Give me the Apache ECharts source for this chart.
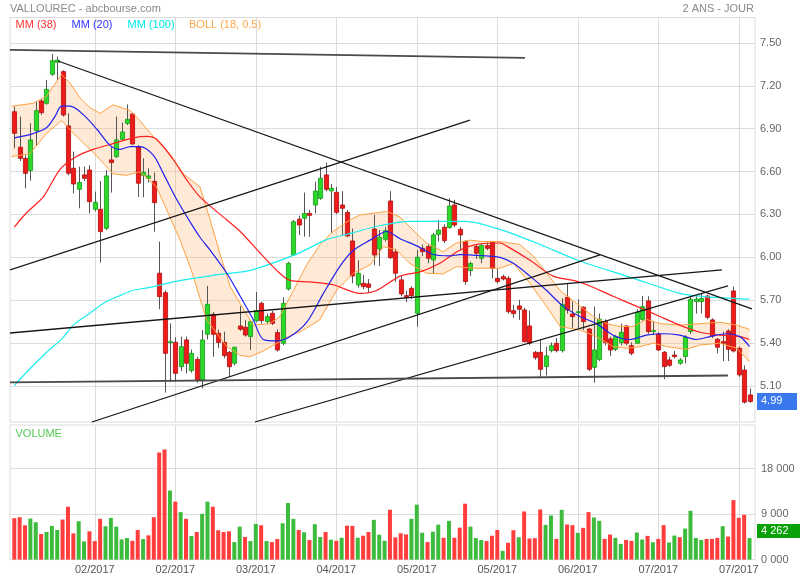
<!DOCTYPE html>
<html><head><meta charset="utf-8">
<script src="https://cdn.jsdelivr.net/npm/echarts@6/dist/echarts.min.js"></script>
<style>html,body{margin:0;padding:0;background:#fff}#c{width:800px;height:580px}</style>
</head><body><div id="c"></div>
<script>
// ---------------- DATA ----------------
const opens = [7.002,6.755,6.678,6.593,6.870,7.076,7.060,7.262,7.345,7.280,
6.903,6.609,6.463,6.563,6.597,6.324,6.324,6.192,6.667,6.690,
6.810,6.921,6.986,6.759,6.560,6.539,6.518,5.880,5.745,5.398,
5.400,5.231,5.417,5.204,5.282,5.139,5.456,5.595,5.463,5.400,
5.331,5.255,5.514,5.505,5.440,5.550,5.671,5.544,5.602,5.468,
5.394,5.771,6.007,6.255,6.262,6.296,6.354,6.400,6.563,6.452,
6.442,6.354,6.303,6.104,5.799,5.810,5.806,6.187,6.049,6.116,
6.382,6.028,5.834,5.725,5.775,5.602,6.053,6.065,5.972,6.150,
6.199,6.197,6.354,6.185,6.100,5.898,6.065,5.984,6.072,6.093,
5.845,5.856,5.845,5.620,5.653,5.625,5.514,5.331,5.331,5.232,
5.343,5.394,5.343,5.713,5.597,5.610,5.644,5.493,5.227,5.282,
5.544,5.424,5.352,5.398,5.514,5.377,5.394,5.560,5.688,5.480,
5.458,5.331,5.278,5.312,5.255,5.301,5.475,5.683,5.683,5.722,
5.556,5.421,5.405,5.479,5.757,5.359,5.208,5.035];
const closes = [6.852,6.678,6.574,6.806,7.009,6.995,7.157,7.356,7.360,6.979,
6.574,6.500,6.510,6.539,6.377,6.373,6.169,6.556,6.648,6.806,
6.861,6.949,6.778,6.505,6.581,6.556,6.370,5.718,5.324,5.405,
5.185,5.370,5.255,5.324,5.139,5.417,5.664,5.456,5.400,5.308,
5.231,5.366,5.491,5.451,5.544,5.620,5.551,5.579,5.532,5.347,
5.671,5.949,6.238,6.215,6.296,6.282,6.451,6.539,6.463,6.470,
6.303,6.331,6.139,5.861,5.880,5.787,5.782,6.007,6.130,6.176,
5.988,5.880,5.736,5.713,5.725,5.991,6.030,5.984,6.146,6.180,
6.107,6.347,6.215,6.146,5.822,5.948,6.019,6.072,6.053,5.914,
5.822,5.840,5.613,5.600,5.630,5.405,5.394,5.294,5.213,5.306,
5.377,5.343,5.664,5.625,5.579,5.613,5.544,5.213,5.347,5.560,
5.398,5.347,5.440,5.470,5.394,5.324,5.609,5.648,5.475,5.482,
5.347,5.232,5.241,5.301,5.278,5.435,5.699,5.700,5.705,5.574,
5.444,5.366,5.394,5.352,5.340,5.174,4.985,4.990];
const highs = [7.037,6.968,6.700,6.921,7.076,7.090,7.222,7.403,7.384,7.290,
6.991,6.725,6.620,6.620,6.630,6.447,6.520,6.597,6.759,6.968,
6.926,7.053,6.990,6.770,6.678,6.609,6.579,6.100,5.760,5.532,
5.435,5.440,5.440,5.350,5.300,5.486,5.792,5.610,5.490,5.474,
5.340,5.370,5.653,5.556,5.556,5.750,5.683,5.600,5.620,5.490,
5.713,5.960,6.250,6.280,6.440,6.320,6.516,6.620,6.648,6.500,
6.480,6.450,6.320,6.190,5.970,5.870,5.840,6.285,6.180,6.200,
6.450,6.050,5.860,5.760,5.790,6.040,6.080,6.080,6.160,6.250,
6.220,6.400,6.390,6.200,6.110,5.960,6.080,6.090,6.093,6.100,
5.914,5.870,5.860,5.660,5.695,5.640,5.620,5.340,5.420,5.370,
5.400,5.430,5.706,5.806,5.683,5.699,5.650,5.500,5.648,5.600,
5.560,5.440,5.450,5.530,5.520,5.400,5.630,5.722,5.720,5.550,
5.470,5.340,5.300,5.340,5.290,5.450,5.722,5.720,5.740,5.730,
5.567,5.430,5.475,5.490,5.787,5.370,5.240,5.080];
const lows = [6.748,6.660,6.470,6.523,6.766,6.980,7.050,7.250,7.222,6.968,
6.560,6.435,6.331,6.520,6.296,6.310,5.954,6.180,6.440,6.680,
6.800,6.910,6.770,6.410,6.407,6.510,6.169,5.630,5.051,5.127,
5.127,5.200,5.185,5.190,5.120,5.081,5.420,5.300,5.360,5.290,
5.162,5.240,5.480,5.440,5.347,5.540,5.530,5.530,5.520,5.336,
5.380,5.760,6.000,6.146,6.134,6.134,6.296,6.390,6.450,6.160,
6.290,6.140,6.130,5.810,5.780,5.770,5.750,5.937,5.930,6.100,
5.980,5.820,5.720,5.680,5.700,5.509,6.000,5.950,5.880,6.100,
6.090,6.190,6.200,6.040,5.800,5.860,5.980,5.950,6.040,5.845,
5.810,5.830,5.600,5.570,5.556,5.400,5.380,5.280,5.160,5.170,
5.330,5.330,5.330,5.600,5.500,5.498,5.486,5.200,5.120,5.270,
5.380,5.306,5.340,5.380,5.380,5.310,5.390,5.550,5.460,5.450,
5.340,5.144,5.230,5.290,5.245,5.255,5.460,5.600,5.600,5.560,
5.430,5.324,5.270,5.270,5.330,5.160,4.975,4.980];
const volumes = [8200,8400,6800,8130,7400,5070,5470,6670,5870,7930,
10470,5200,7600,3600,5600,3670,8070,6600,8270,6530,
4000,4270,3730,5870,4070,4800,8400,21200,21800,13670,
11470,9400,8070,4670,5470,9070,11470,10470,5800,5470,
5600,3470,6530,4470,3670,7070,6800,3670,3470,4070,
7200,11200,8070,5870,5400,3870,7000,4470,5470,3930,
3730,4330,6730,6670,4330,4730,5470,7870,4930,3730,
9870,4400,5200,5000,8070,10870,5330,3470,5530,6930,
4330,7670,4330,6330,11070,6530,4270,3870,3670,4730,
5870,1730,3330,5820,4430,9530,4170,4240,9930,6880,
8740,4100,9860,6950,6820,5290,6290,9400,8340,7680,
4100,4960,4300,3110,3900,3710,5360,3970,4700,3440,
4100,6820,3380,4760,4430,6150,9660,4300,3900,4100,
4100,4300,6620,4570,11780,8270,8870,4262];
// volume bar colour: U = up (green), D = down (red)
const volDir = "DDDUUDUUUD" + "DDUUDDDUUU" + "UUDDUDDDDU" + "DUDUDUUDDD" + "DUUDUUDUDD" +
               "UUUDUDUUDU" + "DUDDUDDUUU" + "DDDDUUUDUU" + "DUDDDUUUDD" + "DUDDUDDDDU" +
               "UDUDDUDDUU" + "DDUUDDUUDU" + "DDUUDUUUUD" + "DDUDDDDU";
const tickLabels = ["02/2017","02/2017","03/2017","04/2017","05/2017","05/2017","06/2017","07/2017","07/2017"];
const TICK_EVERY = 15;
const priceTicks = {min: 4.8, max: 7.8, step: 0.3};
const volTicks = {step: 9000};
const lastVolumeText = "4 262";

// indicator lines: [candle index, value]
const ma100 = [[0,5.10],[3,5.22],[6,5.33],[9,5.43],[11,5.52],[14,5.60],[17,5.68],[20,5.73],[22,5.76],[25,5.78],[31,5.83],[38,5.87],[44,5.90],[53,6.02],[58,6.11],[63,6.16],[68,6.21],[74,6.24],[84,6.24],[90,6.19],[98,6.08],[105,5.97],[115,5.85],[124,5.74],[128,5.72],[137,5.70]];
const ma38 = [[0,6.20],[2.3,6.30],[5.4,6.41],[8.5,6.60],[11.6,6.69],[14.7,6.74],[18.4,6.78],[22.2,6.82],[24.7,6.83],[26.5,6.81],[29.6,6.67],[32.1,6.53],[34.6,6.41],[39.6,6.25],[42.1,6.17],[45.8,6.02],[48.9,5.90],[51.4,5.83],[55.1,5.82],[59.4,5.80],[64.4,5.74],[67.5,5.76],[71.9,5.86],[75.6,5.89],[79.3,5.95],[83.0,6.04],[86.2,6.08],[90.5,6.09],[91.7,6.07],[96.1,5.97],[100.4,5.86],[104.2,5.83],[106.7,5.80],[111.6,5.72],[116.0,5.65],[120.3,5.58],[124.0,5.52],[127.8,5.47],[131.5,5.45],[135.2,5.44],[137,5.42]];
const ma20 = [[0,6.82],[3.5,6.85],[6.0,6.89],[7.6,6.97],[8.8,7.04],[10.4,7.04],[12.9,6.98],[15.4,6.88],[17.8,6.77],[19.7,6.74],[21.6,6.76],[23.4,6.76],[25.9,6.70],[27.8,6.57],[30.3,6.39],[32.7,6.24],[34.6,6.13],[36.5,6.04],[39.6,5.88],[42.1,5.72],[44.5,5.56],[46.4,5.42],[48.9,5.41],[51.4,5.44],[54.5,5.54],[57.6,5.74],[60.7,5.93],[63.2,6.04],[66.3,6.11],[69.4,6.17],[71.9,6.12],[75.0,6.07],[78.1,6.01],[81.2,6.00],[83.0,6.01],[88.0,6.00],[90.5,5.99],[93.0,5.95],[96.1,5.86],[99.2,5.76],[102.3,5.65],[105.4,5.58],[108.5,5.53],[111.6,5.45],[114.7,5.42],[117.8,5.45],[120.9,5.46],[124.0,5.45],[127.1,5.42],[129.6,5.44],[132.7,5.46],[135.2,5.44],[137,5.37]];
const bollUp = [[-0.5,7.04],[3.5,7.06],[6.0,7.11],[8.8,7.26],[10.4,7.20],[12.2,7.10],[14.1,7.03],[16.0,6.99],[18.4,7.05],[21.6,7.01],[23.4,6.94],[25.9,6.83],[29.0,6.71],[31.5,6.57],[34.6,6.48],[36.5,6.25],[38.3,6.02],[40.2,5.79],[42.1,5.67],[44.5,5.52],[47.6,5.53],[49.5,5.58],[52.0,5.76],[54.5,5.94],[57.0,6.08],[59.4,6.17],[62.5,6.25],[64.4,6.285],[67.5,6.30],[69.4,6.31],[71.9,6.27],[74.3,6.18],[76.8,6.09],[79.9,6.03],[82.4,6.09],[84.9,6.11],[87.4,6.10],[90.5,6.10],[94.2,6.08],[96.7,6.00],[99.2,5.88],[101.7,5.76],[104.8,5.67],[107.9,5.58],[110.4,5.53],[112.9,5.51],[115.3,5.51],[117.8,5.56],[120.3,5.53],[124.0,5.52],[127.8,5.53],[131.5,5.54],[134.6,5.52],[137,5.49]];
const bollLow = [[-0.5,6.69],[2.9,6.71],[6.0,6.85],[8.8,6.94],[11.6,6.83],[14.7,6.72],[18.4,6.57],[20.9,6.56],[23.4,6.585],[26.5,6.48],[29.0,6.27],[30.9,6.11],[33.0,5.90],[35.8,5.56],[39.6,5.37],[42.1,5.31],[43.9,5.30],[46.4,5.34],[49.5,5.405],[52.0,5.46],[53.2,5.47],[56.9,5.556],[60.1,5.764],[63.2,5.88],[66.3,5.938],[68.8,6.065],[71.2,6.042],[73.7,5.949],[76.8,5.88],[79.9,5.875],[82.4,5.926],[85.5,5.915],[90.5,5.915],[93.0,5.949],[96.1,5.81],[99.2,5.648],[101.7,5.509],[105.4,5.486],[108.5,5.44],[111.6,5.37],[114.1,5.359],[116.6,5.37],[119.1,5.394],[121.6,5.37],[125.3,5.352],[127.8,5.382],[131.5,5.394],[134.6,5.359],[137,5.266]];
// drawn trend lines: [candle index, price] end points; heavy = drawn thicker/greyer
const trendLines = [
  {pts: [[-0.8,7.431],[95.15,7.375]], heavy: true},
  {pts: [[8.14,7.354],[137.45,5.632]]},
  {pts: [[-0.8,5.903],[84.91,6.944]]},
  {pts: [[14.48,4.847],[109.13,6.007]]},
  {pts: [[44.85,4.847],[132.98,5.792]]},
  {pts: [[-0.8,5.465],[131.86,5.903]]},
  {pts: [[-0.8,5.122],[132.98,5.170]], heavy: true}
];

// ---------------- LAYOUT / STYLE ----------------
const FONT = '"Liberation Sans", Arial, sans-serif';
const GRID = '#dcdcdc';
const DL = 11.6, DW = 740.6;          // candle band area
const PL = 10, PW = 745;              // panel frame
const MT = 17.5, MB = 422;            // price panel
const VT = 425, VB = 559.6;           // volume panel
const P_MAX = 7.656, P_MIN = 4.847;   // price extent of panel
const V_MAX = 26650;
const UP_FILL = '#2bd92b', UP_LINE = '#159b15', DN_FILL = '#ee1b1b', DN_LINE = '#b30c0c';
const VOL_UP = '#3dbb3d', VOL_DN = '#ff3d3d';

const N = closes.length;
const categories = closes.map((_, i) => String(i));
const candleData = closes.map((c, i) => [i, opens[i], c, lows[i], highs[i]]);
const tickInt = (idx) => idx > 0 && idx % TICK_EVERY === 0;
const volFmt = v => v === 0 ? '0 000' : String(Math.round(v)).replace(/\B(?=(\d{3})+(?!\d))/g, ' ');

function renderCandle(params, api) {
  const i = api.value(0);
  const o = api.value(1), c = api.value(2), lo = api.value(3), hi = api.value(4);
  const pH = api.coord([i, hi]), pL = api.coord([i, lo]);
  const pO = api.coord([i, o]), pC = api.coord([i, c]);
  const bw = api.size([1, 0])[0] * 0.78;
  const up = c >= o;
  const x = Math.round(pH[0]) + 0.5;
  const top = Math.min(pO[1], pC[1]);
  const h = Math.max(Math.abs(pO[1] - pC[1]), 1);
  return {type: 'group', children: [
    {type: 'line', shape: {x1: x, y1: pH[1], x2: x, y2: pL[1]}, style: {stroke: '#555', lineWidth: 1}},
    {type: 'rect', shape: {x: x - bw / 2, y: top, width: bw, height: h},
     style: {fill: up ? UP_FILL : DN_FILL, stroke: up ? UP_LINE : DN_LINE, lineWidth: 0.8}}
  ]};
}
function renderBand(params, api) {
  const pts = bollUp.map(p => api.coord(p)).concat(bollLow.slice().reverse().map(p => api.coord(p)));
  return {type: 'polygon', shape: {points: pts}, style: {fill: 'rgba(250,180,110,0.28)'}};
}
function lineSeries(data, color, z, width, smooth) {
  return {type: 'line', xAxisIndex: 1, yAxisIndex: 0, data, symbol: 'none', silent: true,
    lineStyle: {color, width}, z, smooth, clip: false, animation: false};
}

const hidden = {show: false};
const chart = echarts.init(document.getElementById('c'), null, {renderer: 'canvas'});
const option = {
  animation: false,
  textStyle: {fontFamily: FONT},
  grid: [
    {left: DL, top: MT, width: DW, height: MB - MT, show: false},
    {left: DL, top: VT, width: DW, height: VB - VT, show: false},
    {left: PL, top: 40 - (priceTicks.max - 7.5) / 0.3 * 43.2, width: PW, height: (priceTicks.max - priceTicks.min) / 0.3 * 43.2, show: false},
    {left: PL, top: MT, width: PW, height: MB - MT, show: true, borderColor: GRID, borderWidth: 1, backgroundColor: 'transparent'},
    {left: PL, top: VT, width: PW, height: VB - VT, show: true, borderColor: GRID, borderWidth: 1, backgroundColor: 'transparent'}
  ],
  xAxis: [
    {gridIndex: 0, type: 'category', data: categories, boundaryGap: true,
     axisLine: hidden, axisTick: hidden, axisLabel: hidden,
     splitLine: {show: true, interval: tickInt, alignWithLabel: true, lineStyle: {color: GRID}}},
    {gridIndex: 0, type: 'value', min: -0.5, max: N - 0.5, show: false},
    {gridIndex: 1, type: 'category', data: categories, boundaryGap: true,
     axisLine: hidden, axisTick: hidden,
     axisLabel: {show: true, interval: tickInt, color: '#555', fontSize: 11, margin: 5, fontFamily: FONT,
       formatter: (v, idx) => tickLabels[idx / TICK_EVERY - 1] || ''},
     splitLine: {show: true, interval: tickInt, alignWithLabel: true, lineStyle: {color: GRID}}},
    {gridIndex: 2, type: 'value', min: 0, max: 1, show: false},
    {gridIndex: 3, type: 'value', min: 0, max: 1, show: false},
    {gridIndex: 4, type: 'value', min: 0, max: 1, show: false}
  ],
  yAxis: [
    {gridIndex: 0, type: 'value', min: P_MIN, max: P_MAX, show: false},
    {gridIndex: 1, type: 'value', min: 0, max: V_MAX, show: false},
    {gridIndex: 2, type: 'value', position: 'right', min: priceTicks.min, max: priceTicks.max, interval: priceTicks.step,
     axisLine: hidden, axisTick: hidden,
     axisLabel: {showMinLabel: false, showMaxLabel: false, formatter: v => v.toFixed(2), color: '#666', fontSize: 11, margin: 5, fontFamily: FONT},
     splitLine: {show: true, showMinLine: false, showMaxLine: false, lineStyle: {color: GRID}}},
    {gridIndex: 3, type: 'value', min: 0, max: 1, show: false},
    {gridIndex: 4, type: 'value', position: 'right', min: 0, max: V_MAX, interval: volTicks.step,
     axisLine: hidden, axisTick: hidden,
     axisLabel: {showMaxLabel: false, formatter: volFmt, color: '#666', fontSize: 11, margin: 6, fontFamily: FONT},
     splitLine: {show: true, showMinLine: false, showMaxLine: false, lineStyle: {color: GRID}}}
  ],
  series: [
    {type: 'custom', name: 'band', xAxisIndex: 1, yAxisIndex: 0, data: [[0, 6]], renderItem: renderBand, z: 1, silent: true},
    {type: 'custom', name: 'candles', xAxisIndex: 0, yAxisIndex: 0, data: candleData, renderItem: renderCandle,
     encode: {x: 0, y: [1, 2, 3, 4]}, z: 2, silent: true},
    lineSeries(bollUp, '#ffa040', 3, 1, false),
    lineSeries(bollLow, '#ffa040', 3, 1, false),
    lineSeries(ma100, '#19eeee', 4, 1.2, 0.3),
    lineSeries(ma38, '#ff2020', 4, 1.2, 0.3),
    lineSeries(ma20, '#2222ee', 4, 1.2, 0.3),
    ...trendLines.map(t => lineSeries(t.pts, t.heavy ? '#4a4a4a' : '#161616', 5, t.heavy ? 1.8 : 1.3, false)),
    {type: 'bar', xAxisIndex: 2, yAxisIndex: 1, barWidth: 4, silent: true,
     data: volumes.map((v, i) => ({value: v, itemStyle: {color: volDir[i] === 'U' ? VOL_UP : VOL_DN}}))}
  ]
};
chart.setOption(option);

const lastClose = closes[N - 1];
const yLast = chart.convertToPixel({yAxisIndex: 0}, lastClose);
const txt = (text, x, y, fill, size, align) => ({type: 'text', x, y, silent: true,
  style: {text, fill, font: size + 'px ' + FONT, textAlign: align || 'left', textVerticalAlign: 'middle'}});
chart.setOption({graphic: [
  txt('VALLOUREC - abcbourse.com', 10, 8.5, '#8a8a8a', 11),
  txt('2 ANS - JOUR', 754, 8.5, '#8a8a8a', 11, 'right'),
  txt('MM (38)', 15.5, 25, '#ff3333', 11),
  txt('MM (20)', 71.5, 25, '#3333ff', 11),
  txt('MM (100)', 127.5, 25, '#00e6e6', 11),
  txt('BOLL (18, 0.5)', 189, 25, '#ffa64d', 11),
  txt('VOLUME', 15.5, 434, '#55c855', 11),
  {type: 'rect', shape: {x: 757, y: yLast - 8.5, width: 40, height: 17}, style: {fill: '#3a78f0'}, silent: true},
  txt(lastClose.toFixed(2), 761, yLast, '#ffffff', 11),
  {type: 'rect', shape: {x: 757, y: 524, width: 43, height: 14}, style: {fill: '#0aa00a'}, silent: true},
  txt(lastVolumeText, 761, 531, '#ffffff', 11)
]});
</script>
</body></html>
